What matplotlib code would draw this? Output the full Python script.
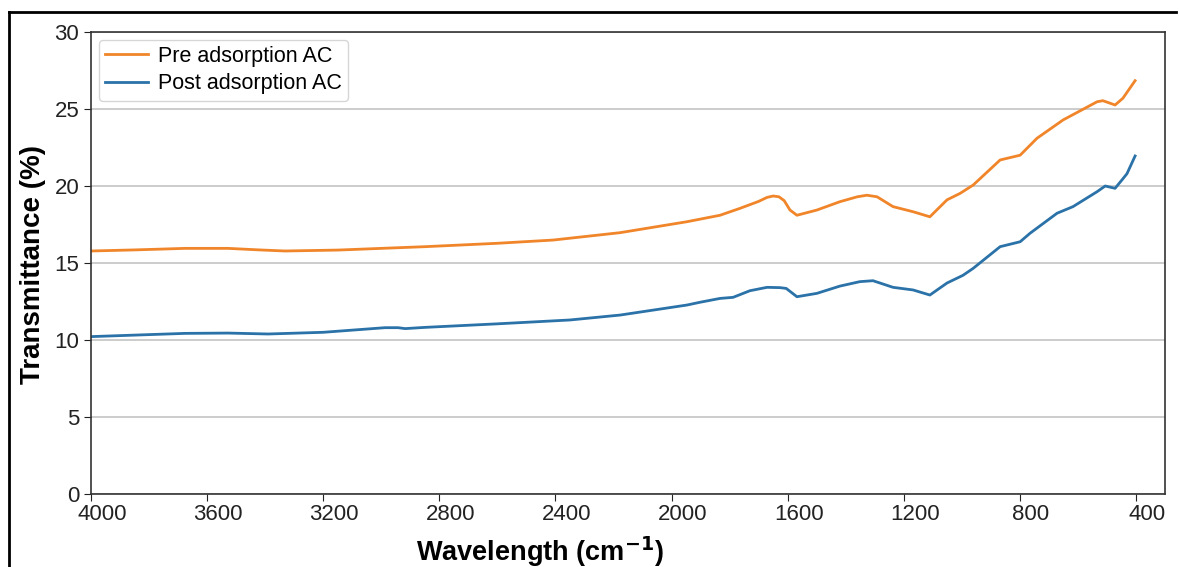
import matplotlib
matplotlib.use("Agg")
import matplotlib.pyplot as plt
from matplotlib.lines import Line2D
from matplotlib.transforms import ScaledTranslation

plt.rcParams['font.family'] = ['Liberation Sans', 'DejaVu Sans']

pre_wn = [4000, 3850, 3676, 3528, 3420, 3332, 3149, 3000, 2849, 2600, 2408, 2177,
          1947, 1833, 1764, 1700, 1671, 1650, 1630, 1612, 1592, 1568, 1499, 1420, 1360,
          1327, 1292, 1237, 1168, 1110, 1051, 1006, 961, 868, 799, 741, 651, 534, 514,
          472, 445, 403]
pre_t = [15.78, 15.85, 15.95, 15.95, 15.85, 15.78, 15.84, 15.95, 16.06, 16.28, 16.49, 16.97,
         17.68, 18.1, 18.55, 19.0, 19.26, 19.35, 19.3, 19.05, 18.44, 18.1, 18.44, 18.98, 19.3,
         19.4, 19.3, 18.66, 18.33, 18.0, 19.1, 19.52, 20.06, 21.69, 22.0, 23.1, 24.29, 25.47, 25.54,
         25.26, 25.7, 26.84]

post_wn = [4000, 3676, 3528, 3390, 3200, 2987, 2942, 2918, 2849, 2600, 2350, 2177,
           1947, 1902, 1833, 1788, 1730, 1671, 1626, 1605, 1568, 1499, 1420, 1351,
           1306, 1237, 1168, 1110, 1051, 996, 961, 868, 799, 765, 672, 617, 534,
           506, 472, 448, 431, 403]
post_t = [10.22, 10.43, 10.45, 10.39, 10.5, 10.8, 10.8, 10.74, 10.82, 11.05, 11.3, 11.62,
          12.27, 12.45, 12.7, 12.77, 13.2, 13.42, 13.4, 13.35, 12.81, 13.03, 13.5, 13.79,
          13.85, 13.42, 13.25, 12.92, 13.7, 14.2, 14.65, 16.06, 16.38, 16.93, 18.23, 18.66, 19.63,
          20.0, 19.85, 20.4, 20.8, 21.95]

x_ticks = [4000, 3600, 3200, 2800, 2400, 2000, 1600, 1200, 800, 400]
y_ticks = [0, 5, 10, 15, 20, 25, 30]

fig = plt.figure(figsize=(11.79, 5.67), dpi=100)
ax = fig.add_axes([91/1179, 1-494/567, (1165-91)/1179, (494-32)/567])

ax.plot(pre_wn, pre_t, color='#f0852a', lw=2, label='Pre adsorption AC')
ax.plot(post_wn, post_t, color='#2a72a8', lw=2, label='Post adsorption AC')

ax.set_xlim(4000, 300)
ax.set_ylim(0, 30)
ax.set_xticks(x_ticks)
ax.set_yticks(y_ticks)
ax.tick_params(labelsize=16, colors='#222222', length=5)
ax.tick_params(axis='x', pad=2)
ax.yaxis.grid(True, color='#c4c4c4', lw=1.2)
ax.set_axisbelow(True)
for s in ax.spines.values():
    s.set_color('#333333')
    s.set_linewidth(1.2)

offset = ScaledTranslation(0.11, 0, fig.dpi_scale_trans)
for lab in ax.get_xticklabels():
    lab.set_transform(lab.get_transform() + offset)

fig.text(540/1179, 1-561/567, 'Wavelength (cm$^{\\mathbf{-1}}$)', fontsize=19.5,
         fontweight='bold', ha='center', va='baseline')
fig.text(33/1179, 1-264/567, 'Transmittance (%)', fontsize=20, fontweight='bold',
         rotation=90, ha='center', va='center')

ax.legend(loc='upper left', bbox_to_anchor=(0.0, 1.0), borderaxespad=0.35, fontsize=15.5,
          handlelength=2.0, borderpad=0.3, labelspacing=0.3, handletextpad=0.45,
          frameon=True)

# outer border
fig.add_artist(Line2D([9/1179, 9/1179], [0, 1-12/567], color='black', lw=2,
                      transform=fig.transFigure))
fig.add_artist(Line2D([9/1179, 1176/1179], [1-12/567, 1-12/567], color='black', lw=2,
                      transform=fig.transFigure))

fig.savefig('out.png', dpi=100)
